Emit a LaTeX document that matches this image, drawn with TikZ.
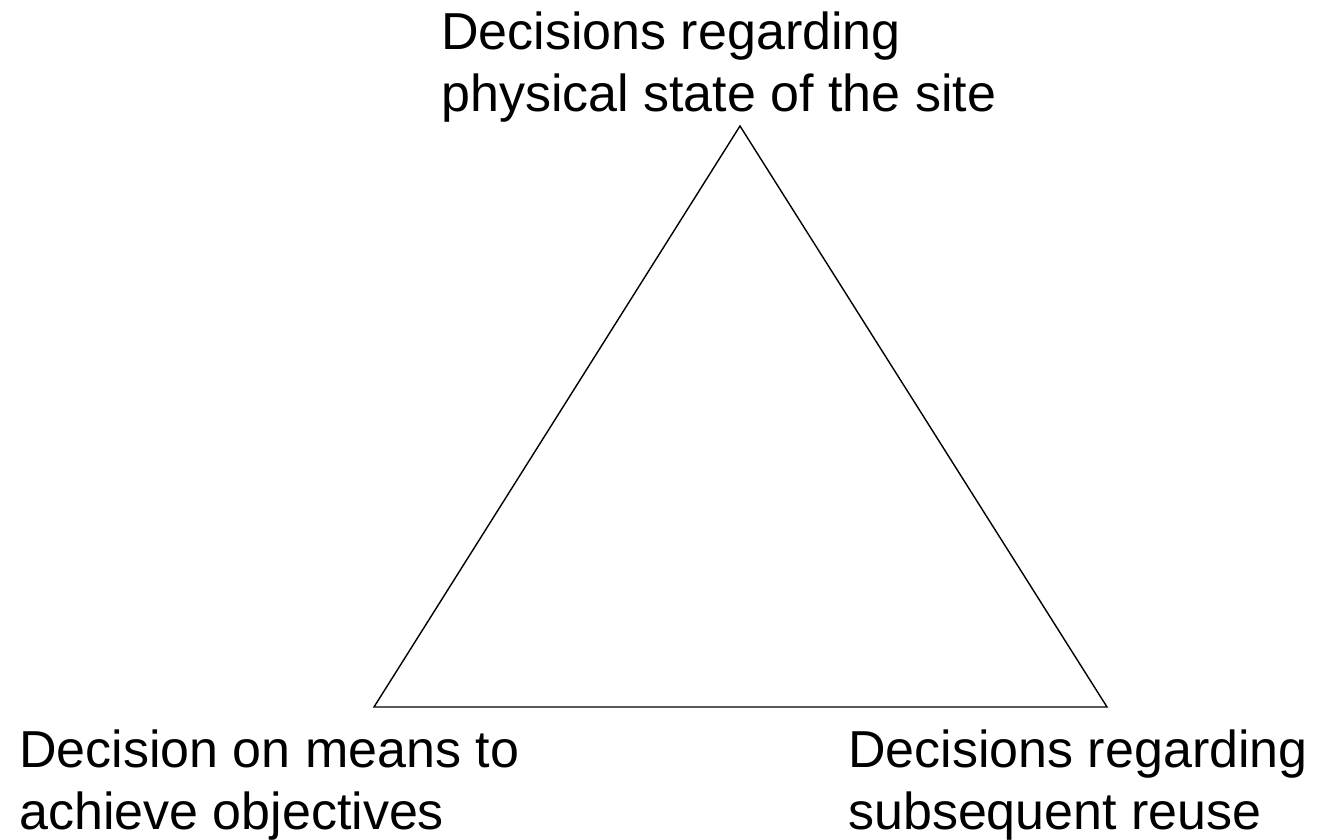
\documentclass[tikz,border=0pt]{standalone}
\usepackage{fontspec}
\setmainfont{Liberation Sans}
\begin{document}
\begin{tikzpicture}[x=1pt,y=1pt,
  % base west = baseline of the last line of a two-line label
  lbl/.style={inner sep=0pt, anchor=base west, align=left,
    font=\fontsize{52}{62}\selectfont},
  edge/.style={draw=black, line width=1.4pt, line join=miter}]
  \useasboundingbox (0,0) rectangle (1320,840);
  % corners of the triangle
  \coordinate (apex) at (740,714);
  \coordinate (bl) at (374,133);
  \coordinate (br) at (1107,133);
  \draw[edge] (apex) -- (bl) -- (br) -- cycle;
  % labels at the corners
  \node[lbl] (top) at (441,728) {Decisions regarding\\physical state of the site};
  \node[lbl] (left) at (19,10) {Decision on means to\\achieve objectives};
  \node[lbl] (right) at (848,10) {Decisions regarding\\subsequent reuse};
\end{tikzpicture}
\end{document}
